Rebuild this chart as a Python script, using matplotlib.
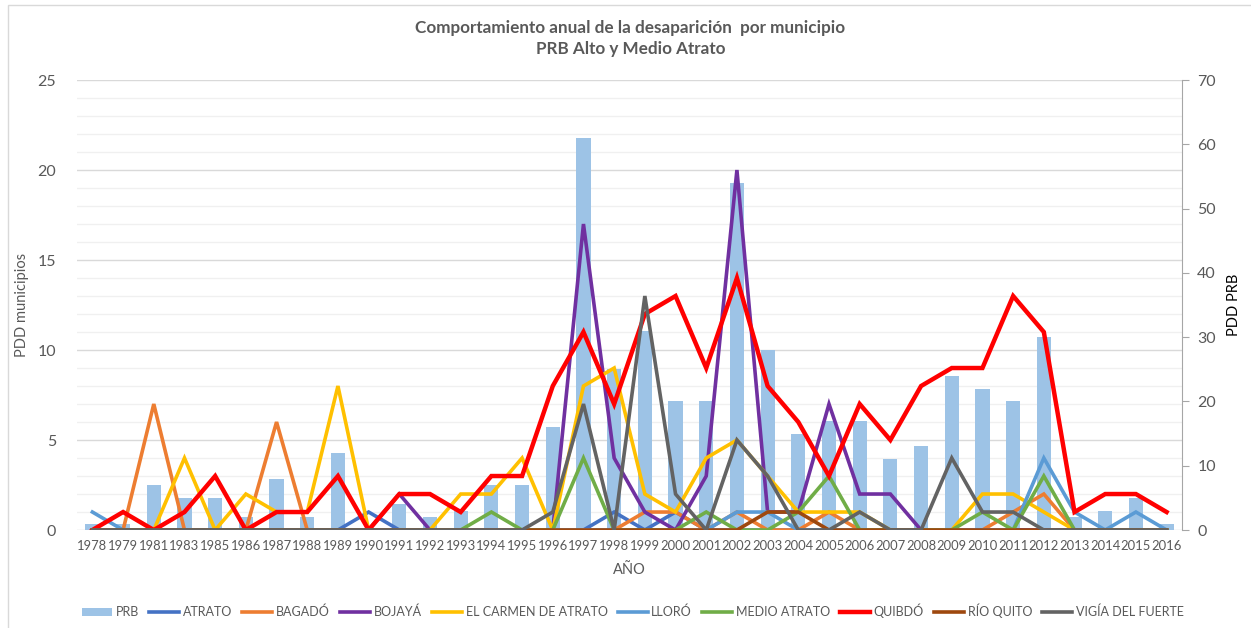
import numpy as np
import matplotlib
matplotlib.use('Agg')
import matplotlib.pyplot as plt
from matplotlib.patches import Rectangle

plt.rcParams['font.family'] = ['Lato', 'DejaVu Sans']

years = ['1978', '1979', '1981', '1983', '1985', '1986', '1987', '1988', '1989', '1990',
         '1991', '1992', '1993', '1994', '1995', '1996', '1997', '1998', '1999', '2000',
         '2001', '2002', '2003', '2004', '2005', '2006', '2007', '2008', '2009', '2010',
         '2011', '2012', '2013', '2014', '2015', '2016']

prb = [1, 1, 7, 5, 5, 2, 8, 2, 12, 0, 4, 2, 3, 7, 7, 16, 61, 25, 31, 20,
       20, 54, 28, 15, 17, 17, 11, 13, 24, 22, 20, 30, 2, 3, 5, 1]

atrato = [0, 0, 0, 0, 0, 0, 0, 0, 0, 1, 0, 0, 0, 0, 0, 0, 0, 1, 0, 1,
          0, 0, 0, 0, 0, 0, 0, 0, 0, 0, 0, 0, 0, 0, 0, 0]
bagado = [0, 0, 7, 0, 0, 0, 6, 0, 0, 0, 0, 0, 0, 0, 0, 0, 0, 0, 1, 1,
          0, 1, 0, 0, 1, 0, 0, 0, 0, 0, 1, 2, 0, 0, 0, 0]
bojaya = [0, 0, 0, 0, 0, 0, 0, 0, 0, 0, 2, 0, 0, 0, 0, 0, 17, 4, 1, 0,
          3, 20, 1, 1, 7, 2, 2, 0, 0, 0, 0, 0, 0, 0, 0, 0]
carmen = [0, 0, 0, 4, 0, 2, 1, 1, 8, 0, 0, 0, 2, 2, 4, 0, 8, 9, 2, 1,
          4, 5, 3, 1, 1, 1, 0, 0, 0, 2, 2, 1, 0, 0, 0, 0]
lloro = [1, 0, 0, 0, 0, 0, 0, 0, 0, 0, 0, 0, 0, 0, 0, 0, 0, 0, 0, 0,
         0, 1, 1, 0, 0, 0, 0, 0, 0, 0, 0, 4, 1, 0, 1, 0]
medio_atrato = [0, 0, 0, 0, 0, 0, 0, 0, 0, 0, 0, 0, 0, 1, 0, 0, 4, 0, 0, 0,
                1, 0, 0, 1, 3, 0, 0, 0, 0, 1, 0, 3, 0, 0, 0, 0]
quibdo = [0, 1, 0, 1, 3, 0, 1, 1, 3, 0, 2, 2, 1, 3, 3, 8, 11, 7, 12, 13,
          9, 14, 8, 6, 3, 7, 5, 8, 9, 9, 13, 11, 1, 2, 2, 1]
rio_quito = [0, 0, 0, 0, 0, 0, 0, 0, 0, 0, 0, 0, 0, 0, 0, 0, 0, 0, 0, 0,
             0, 0, 1, 1, 0, 0, 0, 0, 0, 0, 0, 0, 0, 0, 0, 0]
vigia = [0, 0, 0, 0, 0, 0, 0, 0, 0, 0, 0, 0, 0, 0, 0, 1, 7, 0, 13, 2,
         0, 5, 3, 0, 0, 1, 0, 0, 4, 1, 1, 0, 0, 0, 0, 0]

series = [('ATRATO', atrato, '#4472C4', 2.6),
          ('BAGADÓ', bagado, '#ED7D31', 2.6),
          ('BOJAYÁ', bojaya, '#7030A0', 2.6),
          ('EL CARMEN DE ATRATO', carmen, '#FFC000', 2.6),
          ('LLORÓ', lloro, '#5B9BD5', 2.6),
          ('MEDIO ATRATO', medio_atrato, '#70AD47', 2.6),
          ('QUIBDÓ', quibdo, '#FF0000', 3.2),
          ('RÍO QUITO', rio_quito, '#9E480E', 2.6),
          ('VIGÍA DEL FUERTE', vigia, '#636363', 2.6)]

txt = '#595959'
x = np.arange(len(years))

fig = plt.figure(figsize=(12.51, 6.28), dpi=100)
fig.patches.append(Rectangle((0.006, -0.1), 1.1, 1.092, transform=fig.transFigure,
                             fill=False, edgecolor='#D9D9D9', linewidth=1))

# bars on the right axis (drawn first, so lines sit above)
ax = fig.add_axes([0.0616, 0.156, 0.8832, 0.7166])
axl = ax.twinx()

ax.set_xlim(-0.5, len(years) - 0.5)
ax.set_ylim(0, 70)
for v in range(26):
    ax.axhline(v * 70 / 25, color='#D9D9D9' if v % 5 == 0 else '#F0F0F0',
               linewidth=1.0, zorder=0)
bars = ax.bar(x, prb, width=0.46, color='#9DC3E6', zorder=1, label='PRB')
ax.yaxis.tick_right()
ax.yaxis.set_label_position('right')
ax.set_yticks(range(0, 71, 10))
ax.tick_params(axis='y', colors='#A6A6A6', labelcolor=txt, labelsize=11.5,
               length=5, pad=6)
ax.set_ylabel('PDD PRB', color='black', fontsize=10.5, labelpad=8)
for s in ['top', 'left', 'bottom']:
    ax.spines[s].set_visible(False)
ax.spines['right'].set_color('#A6A6A6')
ax.set_xticks(x)
ax.set_xticklabels(years, color=txt, fontsize=9.4)
ax.tick_params(axis='x', length=0, pad=7)
ax.set_xlabel('AÑO', color=txt, fontsize=10.5, labelpad=8)

# lines on the left axis
axl.set_ylim(0, 25)
handles = [bars]
for name, vals, col, lw in series:
    h, = axl.plot(x, vals, color=col, linewidth=lw, label=name,
                  solid_joinstyle='miter')
    handles.append(h)
axl.yaxis.tick_left()
axl.yaxis.set_label_position('left')
axl.set_yticks(range(0, 26, 5))
axl.tick_params(axis='y', length=0, labelcolor=txt, labelsize=11.5, pad=15)
axl.set_ylabel('PDD municipios', color=txt, fontsize=10.5, labelpad=6)
for s in axl.spines.values():
    s.set_visible(False)

fig.text(0.504, 0.955, 'Comportamiento anual de la desaparición  por municipio',
         ha='center', va='center', fontsize=12.3, fontweight='bold', color=txt)
fig.text(0.504, 0.922, 'PRB Alto y Medio Atrato', ha='center', va='center',
         fontsize=12.3, fontweight='bold', color=txt)

leg = fig.legend(handles=handles, loc='center', bbox_to_anchor=(0.506, 0.027),
                 ncol=10, frameon=False, fontsize=9, handlelength=2.4,
                 handletextpad=0.3, columnspacing=0.8, labelcolor=txt)

fig.savefig('out.png', dpi=100)
